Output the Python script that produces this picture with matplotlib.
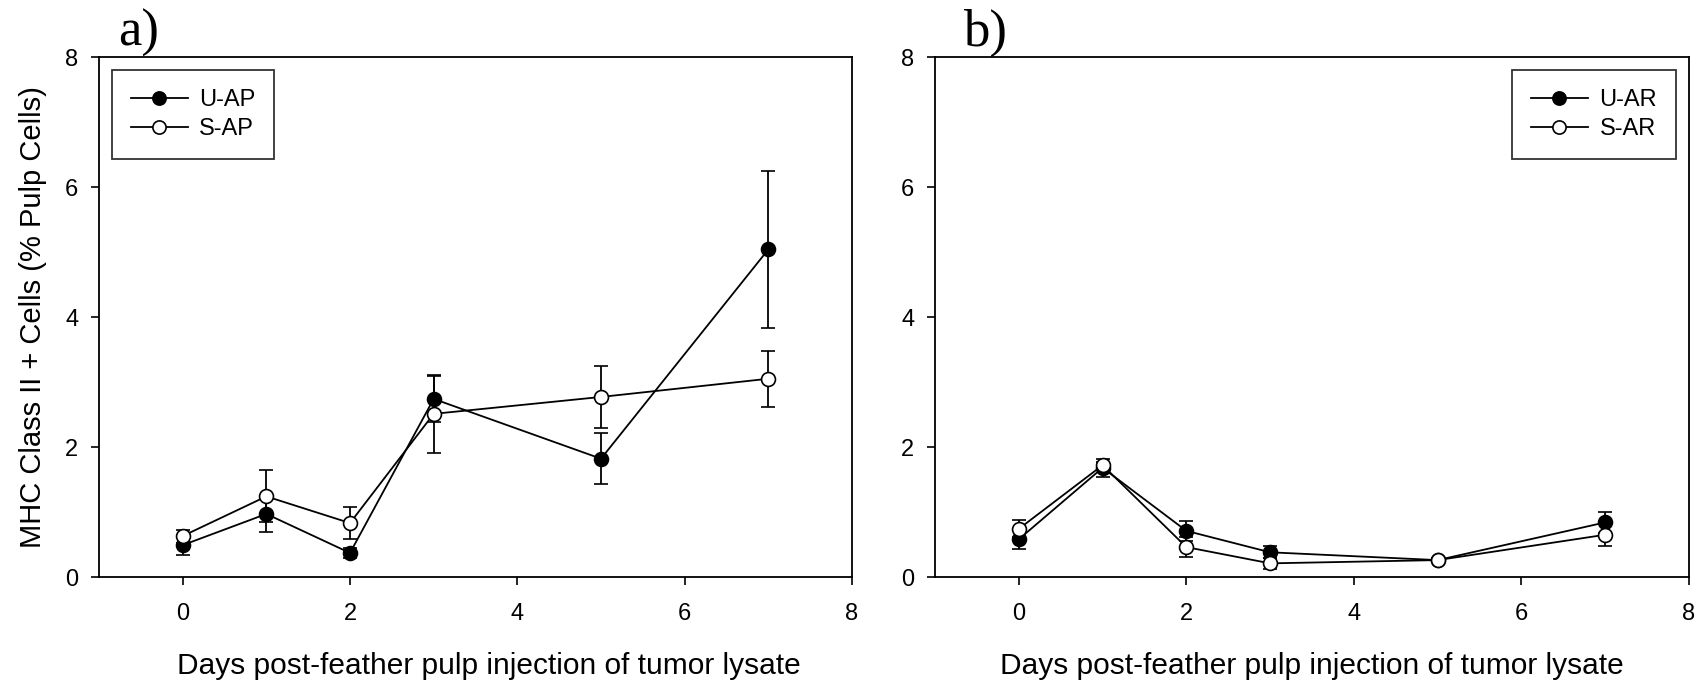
import matplotlib.pyplot as plt
import numpy as np

plt.rcParams['font.family'] = ['Liberation Sans', 'DejaVu Sans']

days = [0, 1, 2, 3, 5, 7]

# panel a
u_ap = [0.49, 0.97, 0.37, 2.74, 1.82, 5.04]
u_ap_err = [0.15, 0.27, 0.07, 0.35, 0.39, 1.21]
s_ap = [0.63, 1.24, 0.83, 2.51, 2.77, 3.05]
s_ap_err = [0.10, 0.40, 0.24, 0.60, 0.48, 0.43]

# panel b
u_ar = [0.58, 1.68, 0.71, 0.38, 0.26, 0.84]
u_ar_err = [0.15, 0.14, 0.15, 0.09, 0.03, 0.16]
s_ar = [0.74, 1.72, 0.46, 0.21, 0.26, 0.65]
s_ar_err = [0.13, 0.05, 0.15, 0.08, 0.03, 0.17]

xticks = [0, 2, 4, 6, 8]
yticks = [0, 2, 4, 6, 8]
xlabel = "Days post-feather pulp injection of tumor lysate"
ylabel = "MHC Class II + Cells (% Pulp Cells)"

fig = plt.figure(figsize=(17.01, 6.82), dpi=100)
W, H = 1701, 682
ax_a = fig.add_axes([99 / W, 1 - 577 / H, (852 - 99) / W, (577 - 57) / H])
ax_b = fig.add_axes([935 / W, 1 - 577 / H, (1689 - 935) / W, (577 - 57) / H])


def draw(ax, filled, ferr, hollow, herr, names, loc):
    kw = dict(color='black', lw=1.3, capsize=5, capthick=1.3, elinewidth=1.3,
              markersize=10, markeredgewidth=1.2, markeredgecolor='black')
    ax.errorbar(days, filled, yerr=ferr, marker='o', markerfacecolor='black',
                label=names[0], **kw)
    ax.errorbar(days, hollow, yerr=herr, marker='o', markerfacecolor='white',
                label=names[1], **kw)
    ax.set_xlim(-1, 8)
    ax.set_ylim(0, 8)
    ax.set_xticks(xticks)
    ax.set_yticks(yticks)
    ax.tick_params(direction='out', length=6, width=1.2, labelsize=17,
                   top=False, right=False)
    ax.tick_params(axis='x', pad=13)
    ax.tick_params(axis='y', pad=9)
    for s in ax.spines.values():
        s.set_linewidth(1.3)
    ax.set_xlabel(xlabel, fontsize=21.5, labelpad=19)
    h, l = ax.get_legend_handles_labels()
    h = [x[0] for x in h]
    leg = ax.legend(h, l, loc=loc, fontsize=17, frameon=True, fancybox=False,
                    edgecolor='black', handlelength=2.4, markerscale=0.95,
                    handletextpad=0.5, borderpad=0.8, labelspacing=0.3,
                    borderaxespad=0.55)
    leg.get_frame().set_linewidth(1.3)


draw(ax_a, u_ap, u_ap_err, s_ap, s_ap_err, ['U-AP', 'S-AP'], 'upper left')
draw(ax_b, u_ar, u_ar_err, s_ar, s_ar_err, ['U-AR', 'S-AR'], 'upper right')
ax_a.xaxis.label.set_x(0.518)
ax_a.set_ylabel(ylabel, fontsize=21, labelpad=13)

fig.text(118 / W, 1 - 33 / H, 'a)', fontsize=38, family='Liberation Serif',
         va='center', ha='left')
fig.text(963 / W, 1 - 33 / H, 'b)', fontsize=38, family='Liberation Serif',
         va='center', ha='left')

fig.savefig('out.png', dpi=100)
